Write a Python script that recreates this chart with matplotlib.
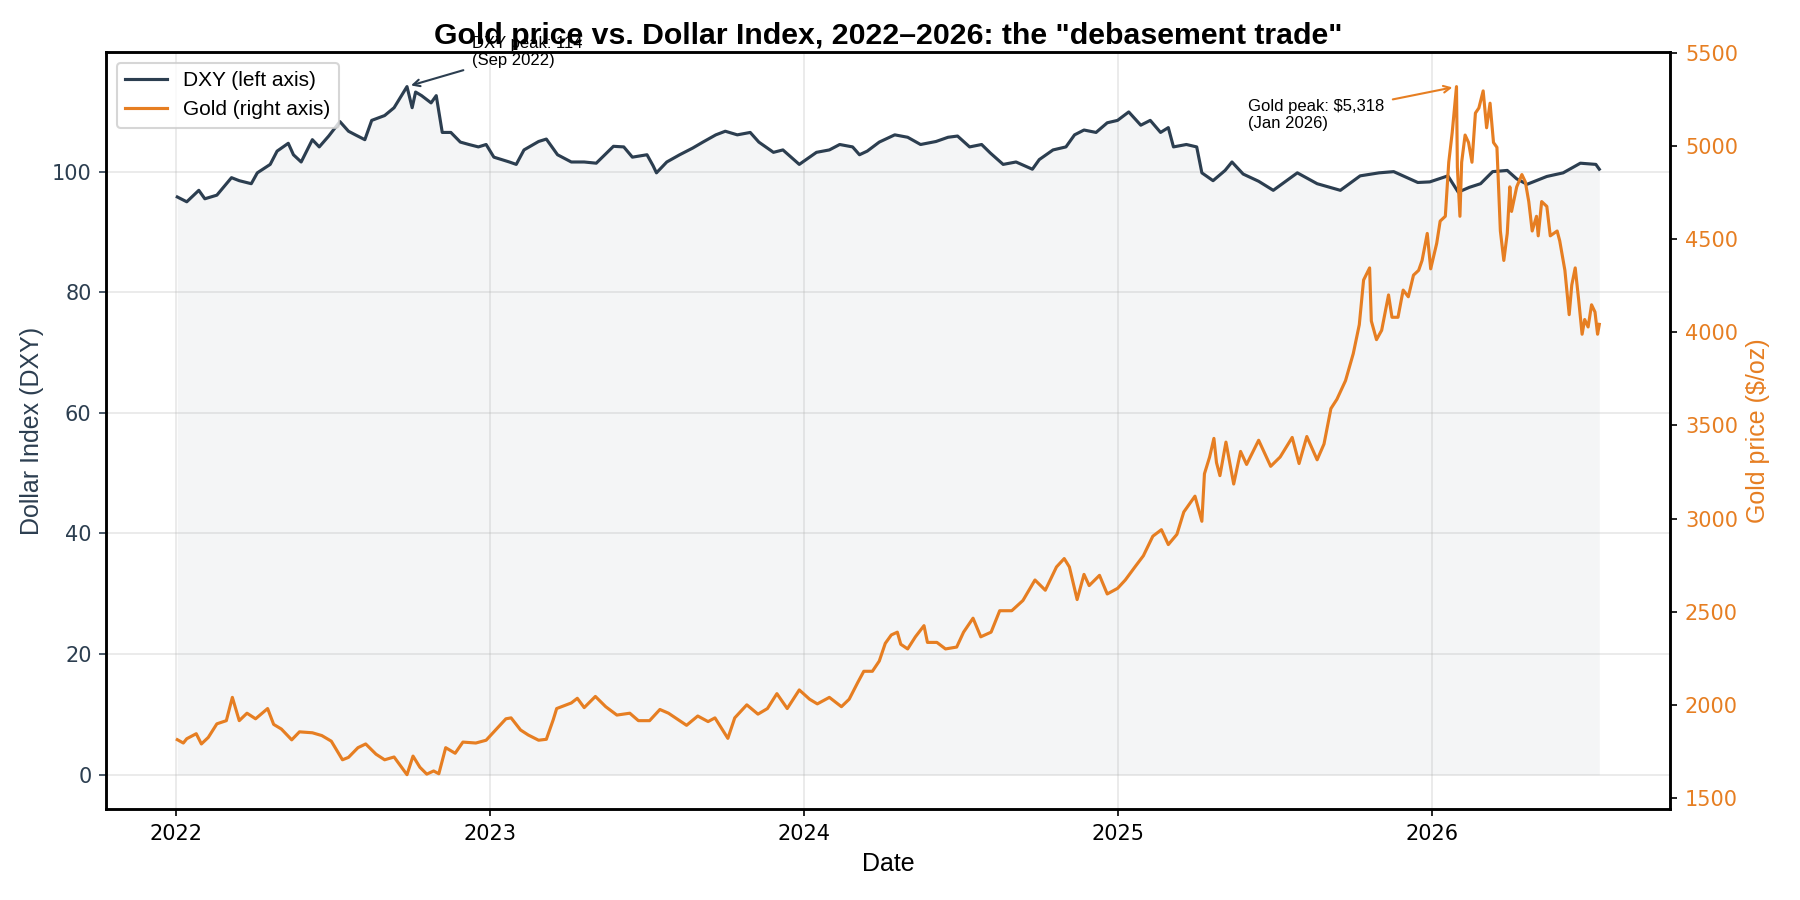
import matplotlib
matplotlib.use("Agg")
import matplotlib.pyplot as plt
import matplotlib.dates as mdates
from matplotlib.ticker import MultipleLocator
import pandas as pd

plt.rcParams["font.family"] = ["Liberation Sans", "DejaVu Sans"]

DXY_COLOR = "#2c3e50"
GOLD_COLOR = "#e67e22"

# DXY readings (left axis)
dxy_dates = [
    "2022-01-03", "2022-01-14", "2022-01-28", "2022-02-04", "2022-02-18", "2022-03-07",
    "2022-03-16", "2022-03-30", "2022-04-06", "2022-04-21", "2022-04-29", "2022-05-12",
    "2022-05-18", "2022-05-27", "2022-06-09", "2022-06-17", "2022-06-28", "2022-07-11",
    "2022-07-21", "2022-07-29", "2022-08-09", "2022-08-17", "2022-09-01", "2022-09-12",
    "2022-09-27", "2022-10-03", "2022-10-07", "2022-10-14", "2022-10-25", "2022-10-31",
    "2022-11-07", "2022-11-17", "2022-11-28", "2022-12-08", "2022-12-19", "2022-12-28",
    "2023-01-06", "2023-01-24", "2023-02-01", "2023-02-10", "2023-02-27", "2023-03-08",
    "2023-03-21", "2023-04-06", "2023-04-21", "2023-05-05", "2023-05-25", "2023-06-06",
    "2023-06-16", "2023-07-03", "2023-07-10", "2023-07-14", "2023-07-26", "2023-08-10",
    "2023-08-25", "2023-09-06", "2023-09-21", "2023-10-02", "2023-10-16", "2023-10-31",
    "2023-11-10", "2023-11-27", "2023-12-08", "2023-12-27", "2024-01-08", "2024-01-16",
    "2024-01-31", "2024-02-12", "2024-02-27", "2024-03-06", "2024-03-15", "2024-03-29",
    "2024-04-16", "2024-05-01", "2024-05-16", "2024-06-03", "2024-06-17", "2024-06-28",
    "2024-07-12", "2024-07-26", "2024-08-05", "2024-08-20", "2024-09-04", "2024-09-23",
    "2024-10-01", "2024-10-17", "2024-11-01", "2024-11-11", "2024-11-22", "2024-12-06",
    "2024-12-19", "2024-12-31", "2025-01-13", "2025-01-27", "2025-02-07", "2025-02-19",
    "2025-02-28", "2025-03-06", "2025-03-21", "2025-04-02", "2025-04-08", "2025-04-21",
    "2025-05-05", "2025-05-13", "2025-05-26", "2025-06-13", "2025-06-30", "2025-07-28",
    "2025-08-20", "2025-09-16", "2025-10-09", "2025-10-31", "2025-11-17", "2025-12-15",
    "2025-12-29", "2026-01-19", "2026-01-31", "2026-02-13", "2026-02-26", "2026-03-12",
    "2026-03-29", "2026-04-09", "2026-04-21", "2026-05-14", "2026-06-02", "2026-06-22",
    "2026-07-10", "2026-07-14",
]
dxy_vals = [
    95.8, 95.0, 96.9, 95.5, 96.1, 99.0,
    98.5, 98.0, 99.8, 101.2, 103.4, 104.7,
    102.8, 101.6, 105.3, 104.1, 105.9, 108.3,
    106.7, 106.1, 105.3, 108.5, 109.3, 110.6,
    114.1, 110.6, 113.2, 112.6, 111.4, 112.6,
    106.5, 106.5, 104.9, 104.5, 104.1, 104.5,
    102.4, 101.6, 101.2, 103.6, 105.0, 105.4,
    102.8, 101.6, 101.6, 101.4, 104.2, 104.1,
    102.4, 102.8, 101.0, 99.8, 101.6, 102.8,
    103.9, 104.9, 106.1, 106.7, 106.1, 106.5,
    104.9, 103.2, 103.6, 101.2, 102.4, 103.2,
    103.6, 104.5, 104.1, 102.8, 103.4, 104.9,
    106.1, 105.7, 104.5, 105.0, 105.7, 105.9,
    104.1, 104.5, 103.1, 101.2, 101.6, 100.4,
    102.0, 103.6, 104.1, 106.1, 106.9, 106.5,
    108.1, 108.5, 109.9, 107.7, 108.5, 106.5,
    107.3, 104.1, 104.5, 104.1, 99.8, 98.5,
    100.2, 101.6, 99.6, 98.4, 96.9, 99.8,
    98.0, 96.9, 99.3, 99.8, 100.0, 98.2,
    98.3, 99.3, 96.6, 97.4, 98.0, 100.0,
    100.2, 98.8, 97.9, 99.2, 99.8, 101.4,
    101.2, 100.4,
]

# Gold readings (right axis, $/oz)
gold_dates = [
    "2022-01-03", "2022-01-10", "2022-01-14", "2022-01-25", "2022-01-31", "2022-02-08",
    "2022-02-18", "2022-03-01", "2022-03-08", "2022-03-16", "2022-03-25", "2022-04-04",
    "2022-04-18", "2022-04-25", "2022-05-04", "2022-05-16", "2022-05-25", "2022-06-09",
    "2022-06-20", "2022-07-01", "2022-07-14", "2022-07-21", "2022-08-01", "2022-08-10",
    "2022-08-22", "2022-09-01", "2022-09-12", "2022-09-27", "2022-10-04", "2022-10-12",
    "2022-10-20", "2022-10-28", "2022-11-03", "2022-11-11", "2022-11-22", "2022-12-01",
    "2022-12-16", "2022-12-28", "2023-01-10", "2023-01-20", "2023-01-26", "2023-02-06",
    "2023-02-15", "2023-02-27", "2023-03-08", "2023-03-16", "2023-03-20", "2023-04-06",
    "2023-04-13", "2023-04-21", "2023-05-04", "2023-05-16", "2023-05-29", "2023-06-13",
    "2023-06-23", "2023-07-06", "2023-07-18", "2023-07-28", "2023-08-10", "2023-08-18",
    "2023-08-31", "2023-09-12", "2023-09-20", "2023-10-05", "2023-10-13", "2023-10-27",
    "2023-11-09", "2023-11-20", "2023-12-01", "2023-12-13", "2023-12-27", "2024-01-08",
    "2024-01-17", "2024-01-31", "2024-02-14", "2024-02-23", "2024-03-04", "2024-03-11",
    "2024-03-21", "2024-03-29", "2024-04-05", "2024-04-12", "2024-04-19", "2024-04-23",
    "2024-05-01", "2024-05-10", "2024-05-20", "2024-05-24", "2024-06-04", "2024-06-14",
    "2024-06-27", "2024-07-05", "2024-07-16", "2024-07-25", "2024-08-06", "2024-08-16",
    "2024-08-30", "2024-09-12", "2024-09-26", "2024-10-08", "2024-10-21", "2024-10-30",
    "2024-11-05", "2024-11-14", "2024-11-22", "2024-11-28", "2024-12-10", "2024-12-19",
    "2024-12-31", "2025-01-09", "2025-01-21", "2025-01-30", "2025-02-10", "2025-02-20",
    "2025-02-28", "2025-03-10", "2025-03-18", "2025-03-31", "2025-04-08", "2025-04-11",
    "2025-04-17", "2025-04-22", "2025-04-25", "2025-04-29", "2025-05-06", "2025-05-15",
    "2025-05-23", "2025-05-30", "2025-06-13", "2025-06-27", "2025-07-08", "2025-07-22",
    "2025-07-30", "2025-08-08", "2025-08-20", "2025-08-28", "2025-09-05", "2025-09-12",
    "2025-09-22", "2025-10-01", "2025-10-08", "2025-10-13", "2025-10-20", "2025-10-22",
    "2025-10-28", "2025-11-03", "2025-11-11", "2025-11-15", "2025-11-22", "2025-11-28",
    "2025-12-04", "2025-12-10", "2025-12-16", "2025-12-20", "2025-12-26", "2025-12-30",
    "2026-01-06", "2026-01-10", "2026-01-16", "2026-01-20", "2026-01-24", "2026-01-29",
    "2026-01-30", "2026-02-02", "2026-02-04", "2026-02-08", "2026-02-12", "2026-02-16",
    "2026-02-20", "2026-02-24", "2026-03-01", "2026-03-05", "2026-03-09", "2026-03-13",
    "2026-03-17", "2026-03-21", "2026-03-25", "2026-03-29", "2026-04-01", "2026-04-03",
    "2026-04-09", "2026-04-15", "2026-04-19", "2026-04-23", "2026-04-27", "2026-05-02",
    "2026-05-04", "2026-05-08", "2026-05-14", "2026-05-18", "2026-05-26", "2026-05-29",
    "2026-06-04", "2026-06-09", "2026-06-12", "2026-06-16", "2026-06-20", "2026-06-24",
    "2026-06-27", "2026-07-01", "2026-07-05", "2026-07-09", "2026-07-12", "2026-07-14",
]
gold_vals = [
    1813, 1795, 1818, 1845, 1790, 1825,
    1898, 1915, 2040, 1915, 1955, 1925,
    1980, 1895, 1870, 1812, 1855, 1850,
    1835, 1805, 1705, 1718, 1770, 1790,
    1735, 1705, 1720, 1625, 1725, 1665,
    1628, 1645, 1630, 1770, 1740, 1800,
    1795, 1810, 1875, 1925, 1930, 1865,
    1838, 1810, 1815, 1920, 1980, 2010,
    2035, 1985, 2045, 1990, 1945, 1955,
    1915, 1915, 1975, 1955, 1915, 1890,
    1940, 1910, 1930, 1820, 1930, 2000,
    1950, 1980, 2060, 1980, 2080, 2030,
    2005, 2040, 1990, 2030, 2120, 2180,
    2180, 2235, 2330, 2375, 2390, 2325,
    2300, 2365, 2425, 2335, 2335, 2300,
    2310, 2390, 2465, 2365, 2390, 2505,
    2505, 2560, 2670, 2615, 2740, 2785,
    2740, 2565, 2700, 2640, 2695, 2595,
    2625, 2670, 2745, 2800, 2905, 2940,
    2860, 2915, 3035, 3120, 2985, 3240,
    3330, 3430, 3300, 3230, 3410, 3185,
    3360, 3290, 3420, 3280, 3330, 3435,
    3295, 3440, 3315, 3400, 3590, 3640,
    3740, 3885, 4040, 4280, 4345, 4060,
    3960, 4010, 4200, 4080, 4080, 4226,
    4190, 4306, 4332, 4385, 4530, 4340,
    4477, 4596, 4622, 4912, 5071, 5318,
    4886, 4622, 4912, 5058, 5018, 4912,
    5176, 5203, 5295, 5097, 5229, 5018,
    4992, 4543, 4385, 4530, 4780, 4648,
    4780, 4846, 4807, 4701, 4543, 4622,
    4517, 4701, 4675, 4517, 4543, 4490,
    4332, 4094, 4253, 4345, 4174, 3989,
    4068, 4028, 4147, 4108, 3989, 4042,
]

dxy_x = pd.to_datetime(dxy_dates)
gold_x = pd.to_datetime(gold_dates)

fig, ax1 = plt.subplots(figsize=(12, 6), dpi=150)
fig.subplots_adjust(left=0.059, right=0.928, bottom=0.101, top=0.942)

ax1.plot(dxy_x, dxy_vals, color=DXY_COLOR, lw=1.5, label="DXY (left axis)")
ax1.fill_between(dxy_x, dxy_vals, 0, color=DXY_COLOR, alpha=0.05, lw=0)
ax1.set_ylabel("Dollar Index (DXY)", color=DXY_COLOR, fontsize=12)
ax1.set_xlabel("Date", fontsize=12)
ax1.tick_params(axis="y", colors=DXY_COLOR, labelsize=10, labelfontfamily="DejaVu Sans")
ax1.tick_params(axis="x", labelsize=10, labelfontfamily="DejaVu Sans")
ax1.yaxis.set_major_locator(MultipleLocator(20))
ax1.xaxis.set_major_locator(mdates.YearLocator())
ax1.xaxis.set_major_formatter(mdates.DateFormatter("%Y"))
ax1.grid(True, alpha=0.3)

ax2 = ax1.twinx()
ax2.plot(gold_x, gold_vals, color=GOLD_COLOR, lw=1.5, label="Gold (right axis)")
ax2.set_ylabel("Gold price ($/oz)", color=GOLD_COLOR, fontsize=12)
ax2.tick_params(axis="y", labelcolor=GOLD_COLOR, labelsize=10, labelfontfamily="DejaVu Sans")
ax2.yaxis.set_major_locator(MultipleLocator(500))

for ax in (ax1, ax2):
    for sp in ax.spines.values():
        sp.set_linewidth(1.2)

# peak annotations
i_dxy = dxy_vals.index(max(dxy_vals))
ax1.annotate("DXY peak: 114\n(Sep 2022)", xy=(dxy_x[i_dxy], dxy_vals[i_dxy]),
             xytext=(pd.Timestamp("2022-12-11"), 117.2), ha="left", va="bottom",
             fontsize=8, arrowprops=dict(arrowstyle="->", color=DXY_COLOR, lw=1))
i_gold = gold_vals.index(max(gold_vals))
ax2.annotate("Gold peak: $5,318\n(Jan 2026)", xy=(gold_x[i_gold], gold_vals[i_gold]),
             xytext=(pd.Timestamp("2025-06-01"), 5080), ha="left", va="bottom",
             fontsize=8, arrowprops=dict(arrowstyle="->", color=GOLD_COLOR, lw=1))

h1, l1 = ax1.get_legend_handles_labels()
h2, l2 = ax2.get_legend_handles_labels()
ax1.legend(h1 + h2, l1 + l2, loc="upper left", fontsize=10)

ax1.set_title('Gold price vs. Dollar Index, 2022\u20132026: the "debasement trade"',
              fontsize=14.5, fontweight="bold", pad=4)

fig.savefig("out.png", dpi=150)
